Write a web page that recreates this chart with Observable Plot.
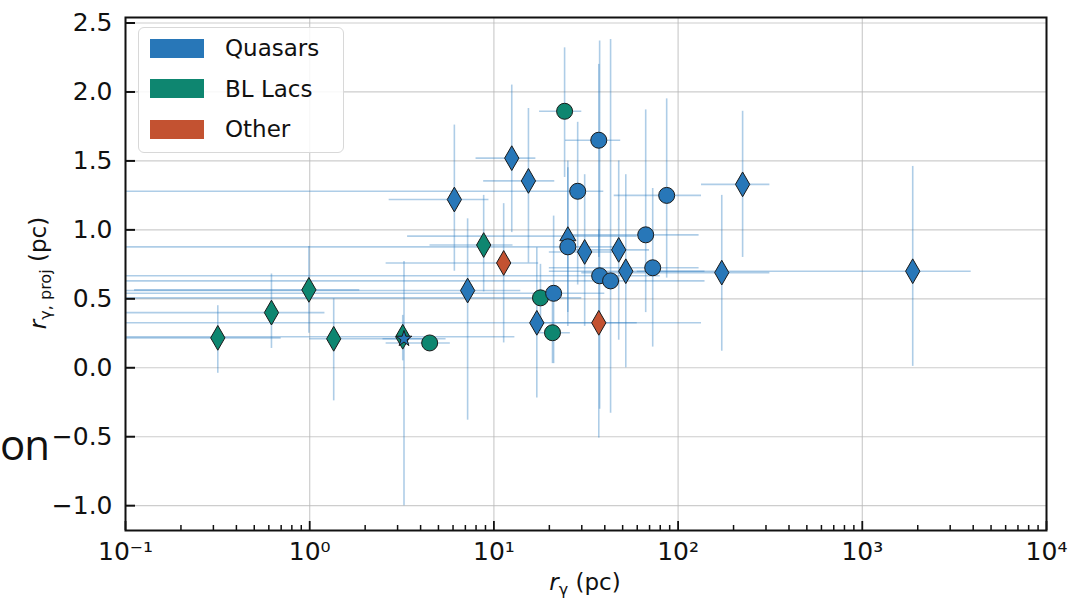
<!DOCTYPE html>
<html>
<head>
<meta charset="utf-8">
<script src="https://cdn.jsdelivr.net/npm/d3@7"></script>
<script src="https://cdn.jsdelivr.net/npm/@observablehq/plot@0.6"></script>
<style>
  body { margin: 0; background: #fff; }
  #wrap { position: relative; width: 1071px; height: 601px; overflow: hidden; font-family: "DejaVu Sans", sans-serif; }
  #legend { position: absolute; left: 138px; top: 27px; width: 206px; height: 126px; background: rgba(255,255,255,0.85);
            border: 1px solid #d8d8d8; border-radius: 6px; box-sizing: border-box; }
  .row { position: absolute; left: 11px; height: 20px; display: flex; align-items: center; }
  .sw { width: 54px; height: 19px; }
  .lab { margin-left: 21px; font-size: 23px; color: #111; line-height: 20px; font-family: "DejaVu Sans"; }
  #frag { position: absolute; left: 0px; top: 423px; font-family: "Open Sans", sans-serif; font-size: 42px; letter-spacing: -1px; color: #111; white-space: nowrap; line-height: 1; }
</style>
</head>
<body>
<div id="wrap"></div>
<script>
// ---- data ----
const category = ["BL","BL","BL","BL","BL","BL","BL","BL","BL","BL","Other","Other",
  "Q","Q","Q","Q","Q","Q","Q","Q","Q","Q","Q","Q","Q","Q","Q","Q","Q","Q","Q","Q","Q","Q"];
const marker = ["d","d","d","d","d","d","o","o","o","o","d","d",
  "d","d","d","d","d","^","d","d","d","d","d","d","o","o","o","o","o","o","o","o","o","*"];
const rGamma = [0.317,0.62,0.99,1.35,3.2,8.8,4.48,17.9,20.8,24.2,11.3,37.1,
  6.1,7.2,12.5,15.4,17.1,25.2,31.1,47.6,52,172.6,224,1878,25.2,21.1,37.1,28.5,37.5,43,66.7,72.8,86.7,3.25];
const rGammaLo = [0.01,0.01,0.112,1.0,0.01,4.5,2.6,0.01,17,17.7,2.6,18,
  2.7,0.01,8,8.8,0.01,3.4,20,25,20,30,134,60,0.01,0.01,24.5,0.01,0.01,0.01,27,20,45,2.5];
const rGammaHi = [0.70,1.21,1.87,5.5,13,12.7,5.8,30,26,30,17.5,134,
  9.4,14,16.9,21.4,60,60,50,70,140,315,315,3900,45,40,48.8,39.5,80,140,130,130,134,4.3];
const rProj = [0.217,0.40,0.565,0.21,0.225,0.89,0.18,0.507,0.254,1.86,0.76,0.326,
  1.22,0.56,1.52,1.355,0.326,0.955,0.84,0.855,0.70,0.69,1.33,0.70,0.877,0.54,1.65,1.28,0.667,0.63,0.964,0.725,1.25,0.21];
const rProjLo = [-0.04,0.14,0.25,-0.24,0.05,0.55,0.15,0.26,0.03,1.38,0.18,-0.51,
  0.70,-0.38,0.98,0.76,-0.22,0.40,0.30,0.20,0.00,0.12,0.80,0.01,0.30,0.03,0.80,0.60,-0.30,-0.33,0.40,0.15,0.65,-1.0];
const rProjHi = [0.45,0.68,0.88,0.50,0.38,1.25,0.21,0.75,0.50,2.32,1.19,1.00,
  1.76,1.08,2.05,1.88,0.87,1.45,1.40,1.50,1.40,1.25,1.86,1.46,1.50,1.10,2.20,1.78,2.37,2.38,1.87,1.30,1.95,0.77];
const legendLabels = ["Quasars","BL Lacs","Other"];
const legendKeys = ["Q","BL","Other"];
const colors = ["#2877b8","#0e8670","#c35231"];
const xTicks = [0.1,1,10,100,1000,10000];
const xTickLabels = ["10\u207B\u00B9","10\u2070","10\u00B9","10\u00B2","10\u00B3","10\u2074"];
const yTicks = [-1.0,-0.5,0.0,0.5,1.0,1.5,2.0,2.5];

const points = rGamma.map((x,i)=>({x, xlo:rGammaLo[i], xhi:rGammaHi[i], y:rProj[i], ylo:rProjLo[i], yhi:rProjHi[i], cat:category[i], m:marker[i]}));
const xMinor = [];
for (const d of [0.1,1,10,100,1000]) for (let k=2;k<=9;k++) xMinor.push(+(d*k).toPrecision(3));

const thinDiamond = { draw(ctx, size) { const s = Math.sqrt(size); const h = s*0.97, w = s*0.56;
  ctx.moveTo(0,-h); ctx.lineTo(w,0); ctx.lineTo(0,h); ctx.lineTo(-w,0); ctx.closePath(); } };

const dotOpts = (m, sym, r) => Plot.dot(points.filter(p=>p.m===m), {x:"x", y:"y", fill:"cat", symbol: sym, r, stroke:"#1a1a1a", strokeWidth:1});

const chart = Plot.plot({
  width: 1071, height: 601,
  marginLeft: 125, marginRight: 25, marginTop: 17, marginBottom: 71,
  style: {fontFamily: "DejaVu Sans", fontSize: "25px", color: "#111", background: "white"},
  x: {type: "log", domain: [0.1, 10000]},
  y: {domain: [-1.18, 2.54]},
  color: {domain: legendKeys, range: colors},
  marks: [
    Plot.gridX(xTicks, {stroke: "#b8b8b8", strokeOpacity: 0.7, strokeWidth: 1.2}),
    Plot.gridY(yTicks, {stroke: "#b8b8b8", strokeOpacity: 0.7, strokeWidth: 1.2}),
    Plot.ruleY(points, {y: "y", x1: "xlo", x2: "xhi", stroke: "#2a7bbf", strokeOpacity: 0.38, strokeWidth: 1.6, clip: true}),
    Plot.ruleX(points, {x: "x", y1: "ylo", y2: "yhi", stroke: "#2a7bbf", strokeOpacity: 0.38, strokeWidth: 1.6, clip: true}),
    dotOpts("^", "triangle", 6),
    dotOpts("d", thinDiamond, 7.2),
    dotOpts("o", "circle", 8),
    dotOpts("*", "star", 5),
    Plot.axisY(yTicks, {anchor: "left", tickSize: -10, tickPadding: 23, strokeWidth: 2, label: null, fontSize: 25,
      tickFormat: d => (d < 0 ? "\u2212" : "") + Math.abs(d).toFixed(1)}),
    Plot.axisX(xMinor, {anchor: "bottom", tickSize: -5, text: null, strokeWidth: 1.5, label: null}),
    Plot.axisX(xTicks, {anchor: "bottom", tickSize: -9, tickPadding: 21, strokeWidth: 1.8, label: null, fontSize: 25,
      tickFormat: (d,i) => xTickLabels[xTicks.indexOf(d)]}),
    Plot.frame({stroke: "#111", strokeWidth: 2})
  ]
});

const wrap = document.getElementById("wrap");
wrap.appendChild(chart);

const svg = d3.select(chart);
svg.selectAll('g[aria-label*="tick label"]').attr("font-size", 25).style("font-size", "25px");
svg.selectAll('g[aria-label*="tick label"] text').attr("font-size", 25).style("font-size", "25px");

// x axis label
const xl = svg.append("text").attr("x", 585).attr("y", 590).attr("text-anchor", "middle")
  .attr("font-family", "DejaVu Sans").style("font-size", "23px").attr("fill", "#111");
xl.append("tspan").attr("font-style", "italic").text("r");
xl.append("tspan").style("font-size", "16px").attr("dy", 5).text("\u03B3");
xl.append("tspan").attr("dy", -5).text(" (pc)");
// y axis label
const yl = svg.append("text").attr("transform", "translate(46,273) rotate(-90)").attr("text-anchor", "middle")
  .attr("font-family", "DejaVu Sans").style("font-size", "23px").attr("fill", "#111");
yl.append("tspan").attr("font-style", "italic").text("r");
yl.append("tspan").style("font-size", "16px").attr("dy", 5).text("\u03B3, proj");
yl.append("tspan").attr("dy", -5).text(" (pc)");

// legend
const lg = document.createElement("div");
lg.id = "legend";
legendLabels.forEach((t,i) => {
  const row = document.createElement("div");
  row.className = "row"; row.style.top = (10 + i*40.5) + "px";
  row.innerHTML = `<div class="sw" style="background:${colors[i]}"></div><div class="lab">${t}</div>`;
  lg.appendChild(row);
});
wrap.appendChild(lg);

// text fragment at the left edge
const frag = document.createElement("div");
frag.id = "frag"; frag.textContent = "on";
wrap.appendChild(frag);
</script>
</body>
</html>
